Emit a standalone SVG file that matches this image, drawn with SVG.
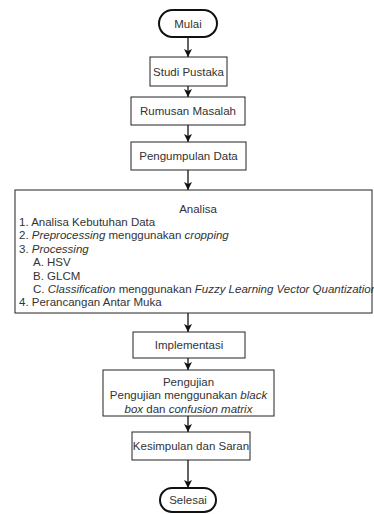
<svg xmlns="http://www.w3.org/2000/svg" width="374" height="514" viewBox="0 0 374 514">
<defs>
<style>
.box{fill:#fff;stroke:#222;stroke-width:1}
.term{fill:#fff;stroke:#111;stroke-width:2}
.t{font-family:"Liberation Sans",Arial,sans-serif;font-size:11.5px;fill:#333}
.c{text-anchor:middle}
.edge{stroke:#111;stroke-width:1.3;fill:none;marker-end:url(#ah)}
</style>
<marker id="ah" markerUnits="userSpaceOnUse" markerWidth="9" markerHeight="8" refX="8" refY="4" orient="auto">
<path d="M0,0 L8,4 L0,8 L2,4 z" fill="#111"/>
</marker>
</defs>
<rect width="374" height="514" fill="#fff"/>
<g id="connectors">
<line class="edge" x1="188" y1="37" x2="188" y2="57"/>
<line class="edge" x1="188" y1="86" x2="188" y2="97"/>
<line class="edge" x1="188" y1="125" x2="188" y2="142"/>
<line class="edge" x1="188" y1="170" x2="188" y2="190"/>
<line class="edge" x1="188" y1="313" x2="188" y2="332"/>
<line class="edge" x1="188" y1="358" x2="188" y2="370"/>
<line class="edge" x1="188" y1="416" x2="188" y2="432"/>
<line class="edge" x1="188" y1="460" x2="188" y2="488"/>
</g>
<g id="mulai">
<rect class="term" x="159" y="10" width="58" height="27" rx="13.5"/>
<text class="t c" x="188" y="28">Mulai</text>
</g>
<g id="studi">
<rect class="box" x="150" y="57" width="77" height="29"/>
<text class="t c" x="188.5" y="75.5">Studi Pustaka</text>
</g>
<g id="rumusan">
<rect class="box" x="131" y="97" width="114" height="28"/>
<text class="t c" x="188" y="115">Rumusan Masalah</text>
</g>
<g id="pengumpulan">
<rect class="box" x="131" y="142" width="115" height="28"/>
<text class="t c" x="188.5" y="160">Pengumpulan Data</text>
</g>
<g id="analisa">
<rect class="box" x="15" y="190" width="357" height="123"/>
<text class="t c" x="198" y="212.5">Analisa</text>
<text class="t" x="19" y="226">1. Analisa Kebutuhan Data</text>
<text class="t" x="19" y="239.4">2. <tspan font-style="italic">Preprocessing</tspan> menggunakan <tspan font-style="italic">cropping</tspan></text>
<text class="t" x="19" y="252.8">3. <tspan font-style="italic">Processing</tspan></text>
<text class="t" x="33" y="266.2">A. HSV</text>
<text class="t" x="33" y="279.6">B. GLCM</text>
<text class="t" x="33" y="293">C. <tspan font-style="italic">Classification</tspan> menggunakan <tspan font-style="italic">Fuzzy Learning Vector Quantization</tspan></text>
<text class="t" x="19" y="306.4">4. Perancangan Antar Muka</text>
</g>
<g id="implementasi">
<rect class="box" x="133" y="332" width="112" height="26"/>
<text class="t c" x="189" y="349">Implementasi</text>
</g>
<g id="pengujian">
<rect class="box" x="103" y="370" width="171" height="46"/>
<text class="t c" x="188.5" y="385.7">Pengujian</text>
<text class="t c" x="188.5" y="399.4">Pengujian menggunakan <tspan font-style="italic">black</tspan></text>
<text class="t c" x="188.5" y="413"><tspan font-style="italic">box</tspan> dan <tspan font-style="italic">confusion matrix</tspan></text>
</g>
<g id="kesimpulan">
<rect class="box" x="132" y="432" width="118" height="28"/>
<text class="t c" x="191" y="450">Kesimpulan dan Saran</text>
</g>
<g id="selesai">
<rect class="term" x="160" y="488" width="56" height="24" rx="12"/>
<text class="t c" x="188" y="504">Selesai</text>
</g>
</svg>
